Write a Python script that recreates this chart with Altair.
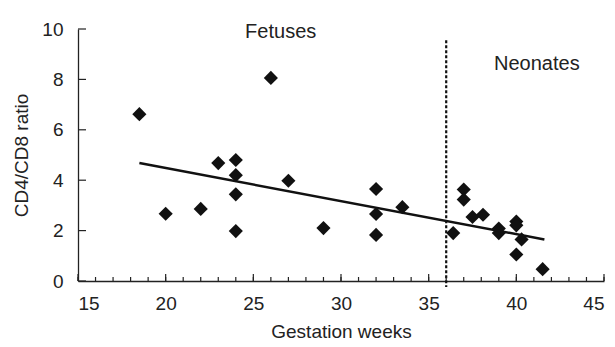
import altair as alt
import pandas as pd

weeks = [18.5, 20.0, 22.0, 23.0, 24.0, 24.0, 24.0, 24.0, 26.0, 27.0, 29.0,
         32.0, 32.0, 32.0, 33.5, 36.4, 37.0, 37.0, 37.5, 38.1, 39.0, 39.0,
         40.0, 40.0, 40.3, 40.0, 41.5]
ratio = [6.62, 2.67, 2.86, 4.68, 4.80, 4.20, 3.44, 1.98, 8.06, 3.98, 2.10,
         3.65, 2.66, 1.83, 2.93, 1.90, 3.63, 3.23, 2.54, 2.63, 2.08, 1.90,
         2.36, 2.21, 1.65, 1.05, 0.47]
fit_x = [18.5, 41.6]
fit_y = [4.68, 1.65]
cut_x = [36.0, 36.0]
cut_y = [9.55, -0.24]
labels = ["Fetuses", "Neonates"]
label_x = [26.56, 41.17]
label_y = [9.9, 8.63]
x_major = [15.0, 20.0, 25.0, 30.0, 35.0, 40.0, 45.0]
x_minor = [float(v) for v in range(15, 46)]
y_major = [0.0, 2.0, 4.0, 6.0, 8.0, 10.0]

FONT = "Liberation Sans"
INK = "#222222"

pts = pd.DataFrame({"w": weeks, "r": ratio})
fit = pd.DataFrame({"w": fit_x, "r": fit_y})
cut = pd.DataFrame({"w": cut_x, "r": cut_y})
lab = pd.DataFrame({"t": labels, "w": label_x, "r": label_y})
xmin_df = pd.DataFrame({"w": x_minor})
xmaj_df = pd.DataFrame({"w": x_major})
ymaj_df = pd.DataFrame({"r": y_major})

xs = alt.Scale(domain=[15, 45], nice=False, zero=False)
ys = alt.Scale(domain=[0, 10], nice=False)

xaxis = alt.Axis(values=x_major, ticks=False, grid=False, domain=True,
                 domainColor=INK, domainWidth=1.3,
                 labelFontSize=19, labelColor=INK, labelFont=FONT,
                 labelPadding=13, title="Gestation weeks", titleFont=FONT,
                 titleFontSize=19, titleFontWeight="normal", titleColor=INK,
                 titlePadding=9)
yaxis = alt.Axis(values=y_major, ticks=False, grid=False, domain=True,
                 domainColor=INK, domainWidth=1.3, labelFontSize=19,
                 labelColor=INK, labelFont=FONT, labelPadding=15,
                 title="CD4/CD8 ratio", titleFont=FONT, titleFontSize=19,
                 titleFontWeight="normal", titleColor=INK, titlePadding=10)

points = alt.Chart(pts).mark_point(shape="diamond", filled=True, size=200,
                                   color="#111", opacity=1).encode(
    x=alt.X("w:Q", scale=xs, axis=xaxis),
    y=alt.Y("r:Q", scale=ys, axis=yaxis),
)

line = alt.Chart(fit).mark_line(color="#111", strokeWidth=2.5).encode(
    x="w:Q", y="r:Q")

dash = alt.Chart(cut).mark_line(color="#111", strokeWidth=2.2,
                                strokeDash=[3, 2], clip=False).encode(
    x="w:Q", y="r:Q")

text = alt.Chart(lab).mark_text(font=FONT, fontSize=20, color=INK,
                                align="center", baseline="middle").encode(
    x="w:Q", y="r:Q", text="t:N")

# inward tick marks (pixel lengths measured from the plot edges)
minor_ticks = alt.Chart(xmin_df).mark_rule(color=INK, strokeWidth=1.2).encode(
    x="w:Q", y=alt.value({"expr": "height"}),
    y2=alt.value({"expr": "height - 4"}))
major_ticks = alt.Chart(xmaj_df).mark_rule(color=INK, strokeWidth=1.2).encode(
    x="w:Q", y=alt.value({"expr": "height"}),
    y2=alt.value({"expr": "height - 7"}))
y_ticks = alt.Chart(ymaj_df).mark_rule(color=INK, strokeWidth=1.2).encode(
    y="r:Q", x=alt.value(0), x2=alt.value(8))

chart = alt.layer(points, line, dash, text, minor_ticks, major_ticks,
                  y_ticks).properties(
    width=615, height=347,
    background="white",
    autosize=alt.AutoSizeParams(type="fit", contains="padding"),
    padding={"left": 12, "top": 20, "right": 10, "bottom": 6},
).configure_view(stroke=None)

chart.save("out.html", embed_options={"renderer": "svg", "actions": False})
